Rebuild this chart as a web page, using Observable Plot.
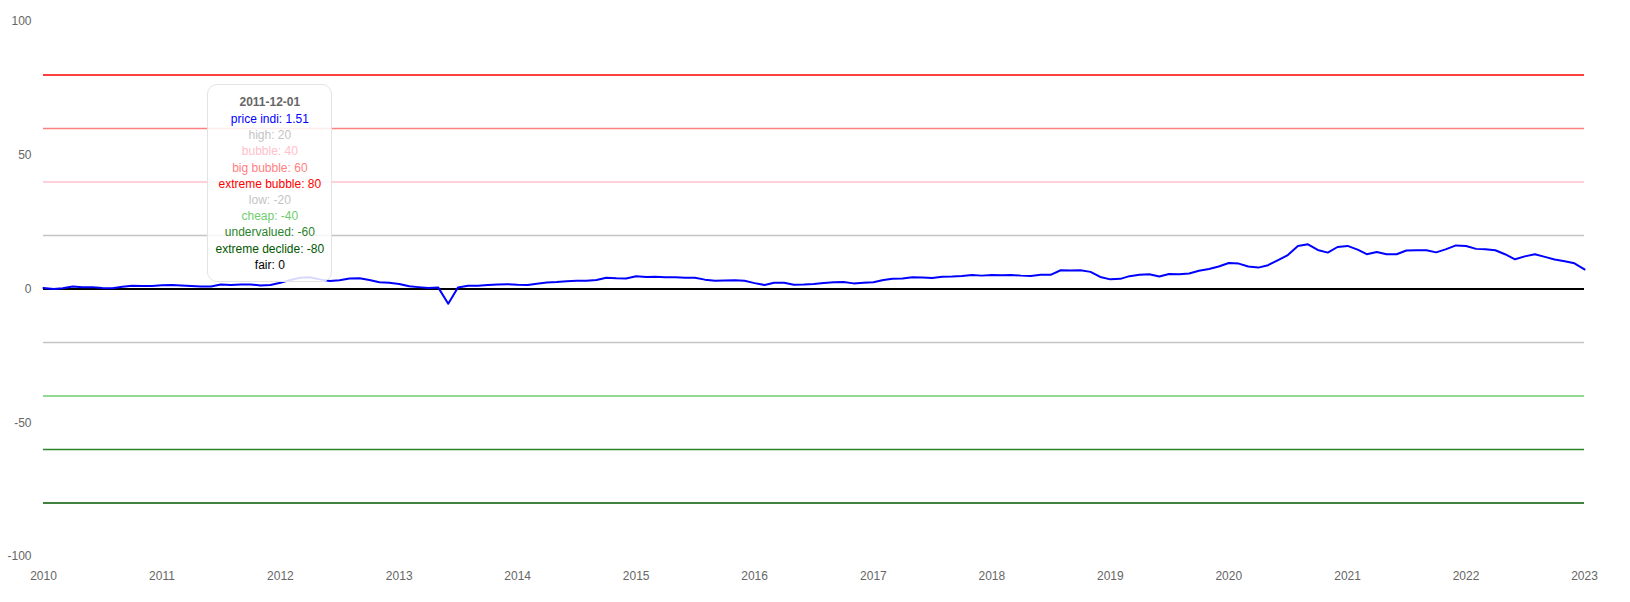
<!DOCTYPE html>
<html>
<head>
<meta charset="utf-8">
<script src="https://cdn.jsdelivr.net/npm/d3@7"></script>
<script src="https://cdn.jsdelivr.net/npm/@observablehq/plot@0.6"></script>
<style>
  html, body { margin: 0; padding: 0; background: #fff; }
  #wrap { position: relative; width: 1630px; height: 602px; font-family: "Liberation Sans", Arial, sans-serif; }
  #tip {
    position: absolute; box-sizing: border-box; width: 125px;
    background: rgba(255,255,255,0.85); border: 1px solid #e3e3e3; border-radius: 10px;
    padding: 8px 4px; text-align: center; font-size: 12px; white-space: nowrap;
  }
  #tip .t { font-weight: bold; color: #666; line-height: 18px; }
  #tip .i { line-height: 16.2px; }
</style>
</head>
<body>
<div id="wrap"></div>
<script>
// Monthly series, first month 2010-01
const startMonth = "2010-01-01";
const priceIndi = [
  0.4, 0.0, 0.3, 0.9, 0.7, 0.7, 0.4, 0.3, 0.8, 1.2, 1.1, 1.1,
  1.4, 1.5, 1.3, 1.1, 0.9, 0.9, 1.7, 1.5, 1.7, 1.7, 1.3, 1.51,
  2.3, 3.4, 4.2, 4.4, 3.6, 3.0, 3.3, 3.9, 4.0, 3.4, 2.5, 2.3,
  1.9, 1.0, 0.7, 0.4, 0.6, -5.5, 0.6, 1.2, 1.2, 1.5, 1.7, 1.8,
  1.6, 1.5, 2.0, 2.4, 2.6, 2.9, 3.1, 3.1, 3.4, 4.2, 4.0, 3.9,
  4.8, 4.5, 4.6, 4.4, 4.4, 4.2, 4.2, 3.5, 3.1, 3.2, 3.3, 3.1,
  2.2, 1.5, 2.3, 2.3, 1.6, 1.7, 1.9, 2.2, 2.5, 2.6, 2.1, 2.3,
  2.5, 3.4, 3.8, 3.9, 4.4, 4.3, 4.1, 4.6, 4.7, 4.9, 5.2, 5.0,
  5.2, 5.1, 5.2, 5.0, 4.9, 5.3, 5.3, 7.0, 6.9, 7.0, 6.4, 4.5,
  3.6, 3.8, 4.8, 5.3, 5.5, 4.7, 5.6, 5.5, 5.8, 6.8, 7.5, 8.4,
  9.7, 9.5, 8.4, 8.0, 8.9, 10.8, 12.7, 16.1, 16.7, 14.6, 13.6, 15.7,
  16.1, 14.7, 13.0, 13.8, 13.0, 13.0, 14.4, 14.5, 14.5, 13.7, 14.9, 16.3,
  16.1, 15.0, 14.9, 14.5, 13.0, 11.1, 12.2, 13.0, 12.0, 11.0, 10.4, 9.6,
  7.3
];
const seriesName = "price indi";
const seriesColor = "blue";

// Reference levels (tooltip order)
const levelNames  = ["high", "bubble", "big bubble", "extreme bubble", "low", "cheap", "undervalued", "extreme declide", "fair"];
const levelValues = [20, 40, 60, 80, -20, -40, -60, -80, 0];
const levelColors = ["#c4c4c4", "#ffc0cb", "#ff7f7f", "#ff0000", "#c4c4c4", "#6fcc6f", "#2a842a", "#005800", "#000000"];

const yTicks = [-100, -50, 0, 50, 100];
const xTickYears = [2010, 2011, 2012, 2013, 2014, 2015, 2016, 2017, 2018, 2019, 2020, 2021, 2022, 2023];
const tooltipDate = "2011-12-01";

// Build tables
const start = new Date(startMonth + "T00:00:00Z");
const dates = d3.utcMonth.range(start, d3.utcMonth.offset(start, priceIndi.length));
const data = priceIndi.map((v, i) => ({date: dates[i], value: v}));
const levels = levelNames.map((n, i) => ({name: n, value: levelValues[i], color: levelColors[i]}));
const xTicks = xTickYears.map(y => new Date(Date.UTC(y, 0, 1)));

const chart = Plot.plot({
  width: 1630,
  height: 602,
  marginLeft: 43,
  marginRight: 46,
  marginTop: 21,
  marginBottom: 46,
  style: {fontFamily: "'Liberation Sans', Arial, sans-serif", fontSize: "12px", color: "#666", background: "#fff"},
  x: {type: "utc", domain: [xTicks[0], xTicks[xTicks.length - 1]]},
  y: {domain: [-100, 100]},
  marks: [
    Plot.ruleY(levels.filter(d => d.value !== 0), {y: "value", stroke: "color", strokeWidth: 1.5}),
    Plot.ruleY(levels.filter(d => d.value === 0), {y: "value", stroke: "color", strokeWidth: 2}),
    Plot.line(data, {x: "date", y: "value", stroke: seriesColor, strokeWidth: 2}),
    Plot.axisY({ticks: yTicks, tickFormat: d => String(d), tickSize: 0, tickPadding: 12, label: null}),
    Plot.axisX({ticks: xTicks, tickFormat: d3.utcFormat("%Y"), tickSize: 0, tickPadding: 15, label: null})
  ]
});

const wrap = document.getElementById("wrap");
wrap.appendChild(chart);

// Tooltip
const tipD = new Date(tooltipDate + "T00:00:00Z");
const idx = dates.findIndex(d => +d === +tipD);
const tip = document.createElement("div");
tip.id = "tip";
let html = `<div class="t">${tooltipDate}</div>`;
html += `<div class="i" style="color:${seriesColor}">${seriesName}: ${priceIndi[idx]}</div>`;
for (const l of levels) html += `<div class="i" style="color:${l.color}">${l.name}: ${l.value}</div>`;
tip.innerHTML = html;
wrap.appendChild(tip);
const px = chart.scale("x").apply(tipD);
tip.style.left = (px - 125 / 2) + "px";
tip.style.top = "84px";
</script>
</body>
</html>
